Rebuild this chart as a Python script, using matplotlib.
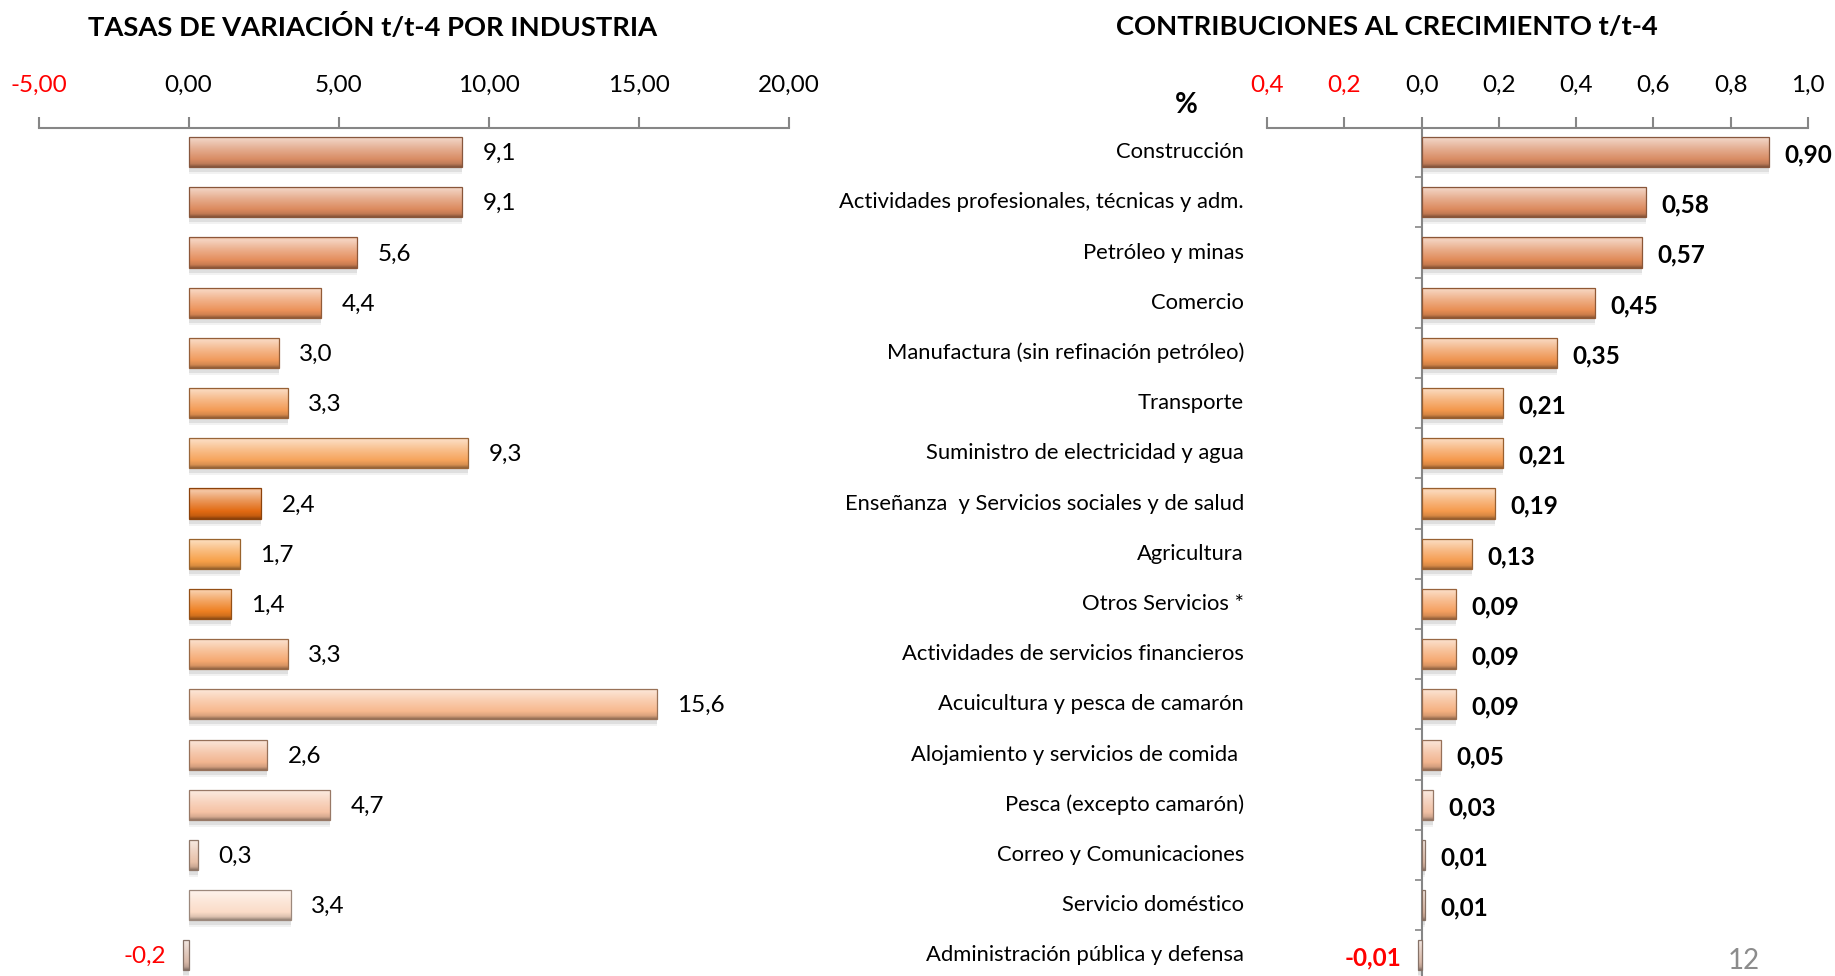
import numpy as np
import matplotlib
matplotlib.use("Agg")
import matplotlib.pyplot as plt
from matplotlib.colors import to_rgb
from matplotlib.transforms import blended_transform_factory

plt.rcParams['font.family'] = ['Lato', 'DejaVu Sans']

# ============================================
# DATA
# ============================================
industries = [
    "Construcción",
    "Actividades profesionales, técnicas y adm.",
    "Petróleo y minas",
    "Comercio",
    "Manufactura (sin refinación petróleo)",
    "Transporte",
    "Suministro de electricidad y agua",
    "Enseñanza  y Servicios sociales y de salud",
    "Agricultura",
    "Otros Servicios *",
    "Actividades de servicios financieros",
    "Acuicultura y pesca de camarón",
    "Alojamiento y servicios de comida ",
    "Pesca (excepto camarón)",
    "Correo y Comunicaciones",
    "Servicio doméstico",
    "Administración pública y defensa",
]
tasas = [9.1, 9.1, 5.6, 4.4, 3.0, 3.3, 9.3, 2.4, 1.7, 1.4, 3.3, 15.6, 2.6, 4.7, 0.3, 3.4, -0.2]
contrib = [0.90, 0.58, 0.57, 0.45, 0.35, 0.21, 0.21, 0.19, 0.13, 0.09, 0.09, 0.09, 0.05, 0.03, 0.01, 0.01, -0.01]

# bar colours (left chart follows its own ordering, right chart a smooth ramp)
left_colors = [
    "#D98C64", "#DC8A5E", "#E48D5C", "#EC925A", "#F09A5C", "#F39B55",
    "#F6A45C", "#E26A12", "#F7A048", "#EE8022", "#F5A870", "#F7B88E",
    "#F2B590", "#F5C2A4", "#E7C0A8", "#FBDCC8", "#D8B8A8",
]
right_colors = [
    "#D98C64", "#DC8A5E", "#E08A58", "#E88E54", "#EE9450", "#F3984C",
    "#F5994C", "#F59A4C", "#F59C50", "#F5A060", "#F5A870", "#F5B080",
    "#F2B590", "#F0C0A4", "#DCB8A4", "#D8B4A0", "#D8B8A8",
]
left_ticks = [-5, 0, 5, 10, 15, 20]
right_ticks = [-0.4, -0.2, 0.0, 0.2, 0.4, 0.6, 0.8, 1.0]

GRAY = "#868686"
RED = "#FF0000"
W, H = 1835, 976


def mix(c, other, t):
    c = np.array(to_rgb(c))
    return tuple(c * (1 - t) + np.array(other) * t)


def bevel_bars(ax, y, vals, colors, height=0.6):
    # soft shadow under each bar
    ax.barh(y + 0.10, vals, height=height, color="#000000", alpha=0.08, zorder=1)
    ax.barh(y + 0.14, vals, height=height, color="#000000", alpha=0.05, zorder=1)
    bars = ax.barh(y, vals, height=height, color=colors, zorder=2)
    n = 64
    t = np.linspace(0, 1, n)
    for bar, c in zip(bars, colors):
        stops = [0.0, 0.08, 0.4, 0.75, 0.9, 1.0]
        cols = np.array([mix(c, (1, 1, 1), 0.35), mix(c, (1, 1, 1), 0.62), mix(c, (1, 1, 1), 0.3),
                         to_rgb(c), mix(c, (0, 0, 0), 0.12), mix(c, (0, 0, 0), 0.4)])
        grad = np.stack([np.interp(t, stops, cols[:, k]) for k in range(3)], axis=1)
        grad = grad[:, None, :]
        x0, y0 = bar.get_x(), bar.get_y()
        w, h = bar.get_width(), bar.get_height()
        im = ax.imshow(grad, extent=[x0, x0 + w, y0 + h, y0], aspect='auto',
                       interpolation='bilinear', zorder=3)
        im.set_clip_path(bar)
    ax.barh(y, vals, height=height, facecolor='none',
            edgecolor=[mix(c, (0, 0, 0), 0.38) for c in colors], linewidth=0.9, zorder=4)
    return bars


fig = plt.figure(figsize=(W / 100, H / 100), dpi=100)

ypos = np.arange(len(industries))
ylims = (16.41, -0.48)
ax_top = 1 - 128 / H

# ============================================
# LEFT: TASAS DE VARIACION
# ============================================
ax1 = fig.add_axes([38.6 / W, 0, 750 / W, ax_top])
bevel_bars(ax1, ypos, tasas, left_colors)
ax1.set_xlim(-5, 20)
ax1.set_ylim(*ylims)
ax1.xaxis.tick_top()
ax1.set_xticks(left_ticks)
ax1.set_xticklabels([f"{v:.2f}".replace('.', ',') for v in left_ticks])
for lab, v in zip(ax1.get_xticklabels(), left_ticks):
    lab.set_color(RED if v < 0 else "black")
ax1.tick_params(axis='x', direction='out', length=8, width=1.5, color=GRAY,
                labelsize=17.5, pad=15)
ax1.set_yticks([])
for s in ['left', 'right', 'bottom']:
    ax1.spines[s].set_visible(False)
ax1.spines['top'].set_color(GRAY)
ax1.spines['top'].set_linewidth(1.5)

for yy, v in zip(ypos, tasas):
    txt = f"{v:.1f}".replace('.', ',')
    if v >= 0:
        ax1.annotate(txt, (v, yy), xytext=(15, -1), textcoords='offset points',
                     ha='left', va='center', fontsize=17.5, color='black')
    else:
        ax1.annotate(txt, (v, yy), xytext=(-12, -1), textcoords='offset points',
                     ha='right', va='center', fontsize=17.5, color=RED)

# ============================================
# RIGHT: CONTRIBUCIONES
# ============================================
ax2 = fig.add_axes([1267 / W, 0, 541 / W, ax_top])
bevel_bars(ax2, ypos, contrib, right_colors)
ax2.set_xlim(-0.4, 1.0)
ax2.set_ylim(*ylims)
ax2.xaxis.tick_top()
ax2.set_xticks(right_ticks)
ax2.set_xticklabels([f"{abs(v):.1f}".replace('.', ',') for v in right_ticks])
for lab, v in zip(ax2.get_xticklabels(), right_ticks):
    lab.set_color(RED if v < 0 else "black")
ax2.tick_params(axis='x', direction='out', length=8, width=1.5, color=GRAY,
                labelsize=17.5, pad=15)
ax2.spines['left'].set_position(('data', 0))
ax2.spines['left'].set_color(GRAY)
ax2.spines['left'].set_linewidth(1.5)
ax2.set_yticks(np.arange(0.5, len(industries) - 1, 1))
ax2.set_yticklabels([])
ax2.tick_params(axis='y', direction='out', length=5, width=1.2, color=GRAY)
for s in ['right', 'bottom']:
    ax2.spines[s].set_visible(False)
ax2.spines['top'].set_color(GRAY)
ax2.spines['top'].set_linewidth(1.5)

lab_tr = blended_transform_factory(ax2.transAxes, ax2.transData)
for yy, name in zip(ypos, industries):
    ax2.text(-0.0425, yy, name, transform=lab_tr, ha='right', va='center',
             fontsize=15.8, color='black')

for yy, v in zip(ypos, contrib):
    txt = f"{v:.2f}".replace('.', ',')
    if v >= 0:
        ax2.annotate(txt, (v, yy), xytext=(11, -2), textcoords='offset points',
                     ha='left', va='center', fontsize=17.5, fontweight='bold', color='black')
    else:
        ax2.annotate(txt, (v, yy), xytext=(-12, -2), textcoords='offset points',
                     ha='right', va='center', fontsize=17.5, fontweight='bold', color=RED)

# ============================================
# TITLES AND EXTRA TEXT
# ============================================
fig.text(373 / W, 1 - 27 / H, "TASAS DE VARIACIÓN t/t-4 POR INDUSTRIA",
         ha='center', va='center', fontsize=19.7, fontweight='bold')
fig.text(1387 / W, 1 - 27 / H, "CONTRIBUCIONES AL CRECIMIENTO t/t-4",
         ha='center', va='center', fontsize=19.7, fontweight='bold')
fig.text(1186 / W, 1 - 105 / H, "%", ha='center', va='center',
         fontsize=20, fontweight='bold')
fig.text(1744 / W, 2 / H, "12", ha='center', va='bottom',
         fontsize=20, color='#8C8C8C')

fig.savefig("out.png", dpi=100)
